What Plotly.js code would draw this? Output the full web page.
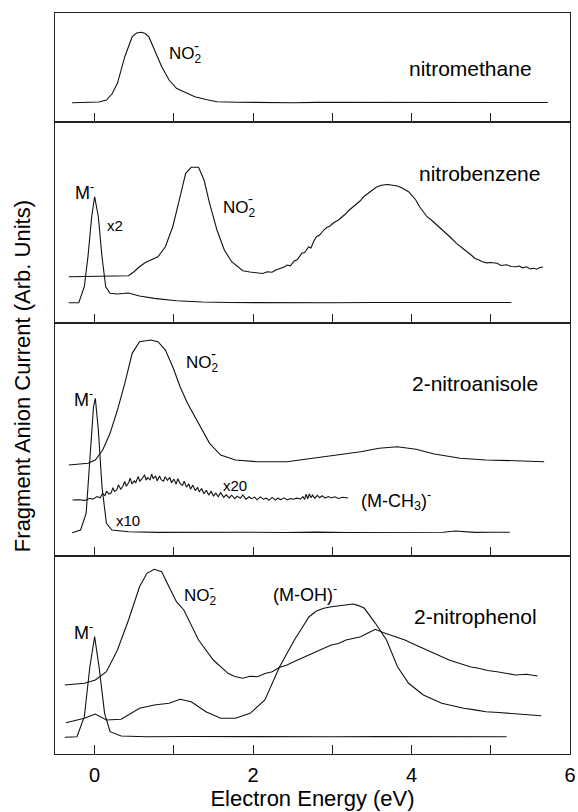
<!DOCTYPE html>
<html>
<head>
<meta charset="utf-8">
<script src="https://cdn.plot.ly/plotly-3.0.1.min.js"></script>
<style>html,body{margin:0;padding:0;background:#fff;}#plot{width:578px;height:812px;}</style>
</head>
<body>
<div id="plot"></div>
<script>
// ---------- DATA (x: electron energy in eV, y: signal height in arbitrary units per panel) ----------
// Panel 1: nitromethane
const nmNO2_x = [-0.284,-0.037,0.056,0.149,0.219,0.288,0.381,0.474,0.53,0.591,0.637,0.684,0.753,0.847,0.94,1.033,1.126,1.265,1.405,1.544,1.8,2.0,2.3,2.5,2.8,3.0,3.3,3.5,3.8,4.0,4.3,4.5,4.8,5.0,5.3,5.5,5.72];
const nmNO2_y = [19.3,19.3,20,22,28,38.7,65.3,85.3,89,89.7,88.5,85.3,72,55.3,42,33.7,30.3,25.3,22.5,20.3,19.8,19.5,19.7,19.3,19.6,19.6,19.3,19.3,19.8,19.8,19.4,19.3,19.6,19.5,19.3,19.4,19.5];

// Panel 2: nitrobenzene
const nbNO2_x = [-0.326,-0.037,0.195,0.428,0.5,0.567,0.64,0.707,0.8,0.893,0.986,1.079,1.149,1.219,1.312,1.381,1.451,1.544,1.637,1.73,1.87,1.96,2.056,2.12,2.18,2.24,2.288,2.34,2.4,2.428,2.47,2.52,2.56,2.614,2.65,2.7,2.73,2.77,2.8,2.84,2.87,2.893,2.93,2.97,3.02,3.079,3.12,3.16,3.2,3.265,3.3,3.35,3.4,3.451,3.5,3.55,3.6,3.637,3.7,3.76,3.823,3.88,3.93,3.963,4.0,4.05,4.102,4.15,4.195,4.25,4.3,4.381,4.43,4.5,4.567,4.62,4.68,4.753,4.8,4.85,4.893,4.95,5.0,5.079,5.13,5.2,5.26,5.312,5.36,5.4,5.45,5.5,5.544,5.58,5.62,5.66];
const nbNO2_y = [46.3,46.5,46.8,47.3,51.5,56.3,60.5,63,66.3,76.3,96.3,126.3,149.7,155.7,155.7,143,119.7,93,73,61.3,52.3,51,50.3,49.6,51.2,50.8,53,54.5,56.2,58,57.2,62,63.5,69.7,70.5,76,75,82.5,86.3,88,91.5,93,95.5,97,100.5,103,106,108.5,112,116.3,119.5,122,126.5,129.7,133,135.5,137.2,138,138.5,137.6,137,135,133.2,131.3,128,123.5,116.3,111.5,106.3,103,99.5,93,89.5,85,79.7,76,72.5,68,64.5,63,61.3,60.2,60.5,59.7,57.5,58.2,56.5,56.3,57,55.2,56.3,54.1,54.7,53.8,55.5,56];
const nbM_x = [-0.326,-0.2,-0.13,-0.084,-0.037,0,0.047,0.093,0.14,0.195,0.288,0.428,0.567,0.753,1.033,1.358,1.7,2.056,2.5,3.0,3.5,4.0,4.5,5.0,5.26];
const nbM_y = [20.3,20.3,36.3,66.3,106.3,126.3,106.3,66.3,36.3,29.7,29,30,27,24.7,22.3,21,20.5,20.3,20.6,20.3,20.5,20.4,20.6,20.4,20.5];

// Panel 3: 2-nitroanisole
const naNO2_x = [-0.326,-0.084,0.009,0.102,0.195,0.288,0.381,0.474,0.567,0.707,0.8,0.893,0.986,1.079,1.172,1.312,1.451,1.591,1.777,2.056,2.428,2.753,3.079,3.358,3.591,3.823,4.056,4.288,4.614,4.94,5.312,5.674];
const naNO2_y = [91,92.7,96,106,122.7,146,172.7,202.7,214.3,216,214.3,206,189.3,169.3,152.7,132.7,112.7,101,96,94.3,94.3,97.7,101,104.3,107.7,109.3,106.7,102,97.7,96,95.3,94.3];
const naMCH3_x = [-0.28,-0.2,-0.12,-0.06,-0.02,0.03,0.07,0.1,0.13,0.15,0.18,0.21,0.23,0.25,0.28,0.3,0.33,0.36,0.38,0.4,0.43,0.45,0.47,0.5,0.52,0.55,0.57,0.6,0.63,0.65,0.67,0.7,0.72,0.74,0.77,0.79,0.82,0.84,0.87,0.89,0.92,0.95,0.97,1.0,1.03,1.05,1.08,1.11,1.13,1.16,1.19,1.21,1.24,1.27,1.3,1.32,1.35,1.38,1.41,1.44,1.47,1.5,1.53,1.56,1.59,1.63,1.66,1.7,1.73,1.77,1.8,1.84,1.87,1.91,1.95,1.98,2.02,2.05,2.09,2.13,2.17,2.2,2.24,2.28,2.31,2.35,2.39,2.43,2.47,2.51,2.55,2.6,2.63,2.65,2.67,2.69,2.71,2.73,2.75,2.78,2.81,2.84,2.87,2.91,2.95,2.99,3.03,3.08,3.13,3.2];
const naMCH3_y = [56,56.3,55.6,57.8,56.9,59.5,58.2,62.5,60.4,64.8,61.9,63.2,68.4,64.6,66.1,71.2,66.8,70.3,74.6,69.8,73.5,77.9,72.1,75.2,73.4,79.6,74.8,77.3,81.2,75.9,78.4,76.2,81.8,77.5,79.8,75.2,80.1,76.4,74.9,79.3,75.6,78.7,73.2,76.9,71.8,77.3,72.4,70.6,74.8,68.9,72.1,66.8,70.9,65.4,68.7,64.1,67.5,62.2,65.8,60.9,64.6,60.1,62.9,59.3,63.4,58.7,61.2,58.1,60.8,57.4,59.9,57.8,61.1,56.9,59.2,57.3,58.9,56.2,59.1,56.8,57.9,55.7,58.6,55.9,57.8,56.4,58.2,56.1,57.4,56.8,57.9,57.1,59.4,56.6,61.8,57.3,62.1,58.2,60.9,57.6,60.6,58.3,60.2,57.9,59.4,58.1,59.2,57.6,58.7,58];
const naM_x = [-0.284,-0.177,-0.107,-0.06,-0.014,0.009,0.047,0.093,0.149,0.219,0.428,0.8,1.2,1.6,2.0,2.4,2.8,3.2,3.6,4.0,4.4,4.55,4.8,5.0,5.24];
const naM_y = [23.3,26,42.7,96,149.3,157.7,126,69.3,32.7,26,24.3,23.6,23.8,23.5,23.7,23.5,23.9,23.5,23.7,23.6,23.8,25,23.6,23.7,23.8];

// Panel 4: 2-nitrophenol
const npNO2_x = [-0.377,-0.13,0.009,0.149,0.288,0.428,0.567,0.66,0.753,0.847,0.94,1.033,1.126,1.312,1.498,1.684,1.77,1.87,1.96,2.056,2.15,2.242,2.33,2.428,2.52,2.614,2.7,2.8,2.89,2.986,3.08,3.172,3.26,3.358,3.45,3.544,3.64,3.73,3.82,3.916,4.01,4.102,4.2,4.288,4.38,4.474,4.57,4.66,4.75,4.847,4.96,5.079,5.2,5.312,5.45,5.591];
const npNO2_y = [69,70.7,74,82.3,104,134,167.3,180.7,184.7,182.3,167,152.3,144,114,94,80.7,77.5,75.7,77.8,77.3,80.5,82.3,86.5,89,92.5,95.7,98.5,102.3,105,109,110.5,114,115.5,117.3,121,124.7,121.5,119,117,114,110.5,107.3,104,100.7,97.5,94,91.5,89,87,85.7,83.5,82.3,80.5,79,79.8,78];
const npMOH_x = [-0.363,-0.13,0.009,0.149,0.335,0.567,0.753,0.94,1.079,1.219,1.405,1.591,1.777,1.963,2.149,2.335,2.521,2.707,2.8,2.893,2.99,3.079,3.17,3.265,3.33,3.405,3.544,3.684,3.823,3.963,4.149,4.381,4.52,4.66,4.8,4.94,5.1,5.312,5.45,5.637];
const npMOH_y = [31.3,35.7,40,34,34.7,45.7,49,50.7,54.7,52.3,42.3,35.7,35.7,40.7,54,87.3,114,137.3,143,145.7,147.2,148,149.1,150,148.4,145.7,130.7,114,87.3,70.7,59,50.7,48.2,45.7,44.1,42.3,41.5,40,39.3,38.3];
const npM_x = [-0.377,-0.223,-0.13,-0.06,0,0.056,0.126,0.195,0.335,0.66,1.2,1.8,2.4,3.0,3.6,4.2,4.8,5.2];
const npM_y = [16.7,17.3,37.3,87.3,117.3,87.3,40.7,22.3,18,17.3,17.5,17.2,17.4,17.2,17.4,17.3,17.2,17.3];

// Tick labels
const tickValues = [0,1,2,3,4,5,6];
const tickLabels = ['0','','2','','4','','6'];

// ---------- PLOT ----------
const FONT = 'Liberation Sans, Arial, Helvetica, sans-serif';
const lineStyle = {color:'#111', width:1.1};
function tr(x, y, ax) {
  return {x:x, y:y, xaxis:'x'+ax, yaxis:'y'+ax, type:'scatter', mode:'lines', line:lineStyle, hoverinfo:'skip', showlegend:false};
}
const data = [
  tr(nmNO2_x, nmNO2_y, '4'),
  tr(nbNO2_x, nbNO2_y, '3'), tr(nbM_x, nbM_y, '3'),
  tr(naNO2_x, naNO2_y, '2'), tr(naMCH3_x, naMCH3_y, '2'), tr(naM_x, naM_y, '2'),
  tr(npNO2_x, npNO2_y, ''), tr(npMOH_x, npMOH_y, ''), tr(npM_x, npM_y, '')
];

function xax(anchor, labels) {
  return {range:[-0.5,6], anchor:anchor, showline:true, mirror:true, linecolor:'#222', linewidth:1,
    ticks:'inside', ticklen:9, tickwidth:1, tickcolor:'#222', tickvals:tickValues, ticktext:tickLabels,
    showticklabels:labels, showgrid:false, zeroline:false, ticklabelstandoff:3,
    tickfont:{family:FONT,size:20,color:'#000'}};
}
function yax(anchor, dom, h) {
  return {range:[0,h], domain:dom, anchor:anchor, showline:true, mirror:true, linecolor:'#222', linewidth:1,
    ticks:'', showticklabels:false, showgrid:false, zeroline:false};
}

const layout = {
  width:578, height:812,
  margin:{l:55, r:8, t:13, b:58},
  paper_bgcolor:'#fff', plot_bgcolor:'#fff',
  font:{family:FONT, color:'#000'},
  xaxis: Object.assign(xax('y', true), {title:{text:'Electron Energy (eV)', font:{family:FONT,size:22,color:'#000'}, standoff:3}}),
  xaxis2: xax('y2', false),
  xaxis3: xax('y3', false),
  xaxis4: xax('y4', false),
  yaxis: yax('x', [0,0.2672], 198),
  yaxis2: yax('x2', [0.2672,0.5816], 233),
  yaxis3: yax('x3', [0.5816,0.8529], 201),
  yaxis4: yax('x4', [0.8529,1], 109),
  annotations: []
};

function ann(text, x, y, ax, size, extra) {
  const a = {text:text, x:x, y:y, xref:'x'+ax, yref:'y'+ax, xanchor:'left', yanchor:'middle', showarrow:false,
    font:{family:FONT, size:size, color:'#000'}};
  return Object.assign(a, extra || {});
}
function no2(x, y, ax) {
  return [ann('NO<sub>2</sub>', x, y, ax, 17, {yshift:-2}), ann('-', x, y, ax, 15, {xshift:25, yshift:8})];
}
layout.annotations.push(
  ...no2(0.916, 68.7, '4'),
  ann('nitromethane', 3.94, 53.7, '4', 21),
  ann('M<sup>-</sup>', -0.27, 131.3, '3', 18),
  ann('x2', 0.135, 98, '3', 15),
  ...no2(1.59, 116.3, '3'),
  ann('nitrobenzene', 4.065, 149.7, '3', 21),
  ...no2(1.126, 194.3, '2'),
  ann('M<sup>-</sup>', -0.284, 157.7, '2', 18),
  ann('2-nitroanisole', 3.986, 172.7, '2', 21),
  ann('x20', 1.59, 71, '2', 15),
  ann('(M-CH<sub>3</sub>)<sup>-</sup>', 3.335, 56, '2', 18),
  ann('x10', 0.242, 36, '2', 15),
  ...no2(1.102, 159, ''),
  ann('(M-OH)<sup>-</sup>', 2.228, 160.7, '', 18),
  ann('2-nitrophenol', 4.01, 137.3, '', 21),
  ann('M<sup>-</sup>', -0.284, 122.3, '', 18),
  {text:'Fragment Anion Current (Arb. Units)', xref:'paper', yref:'paper', x:-0.064, y:0.51, xanchor:'center', yanchor:'middle',
   textangle:-90, showarrow:false, font:{family:FONT, size:22, color:'#000'}}
);

Plotly.newPlot('plot', data, layout, {staticPlot:true, displayModeBar:false});
</script>
</body>
</html>
